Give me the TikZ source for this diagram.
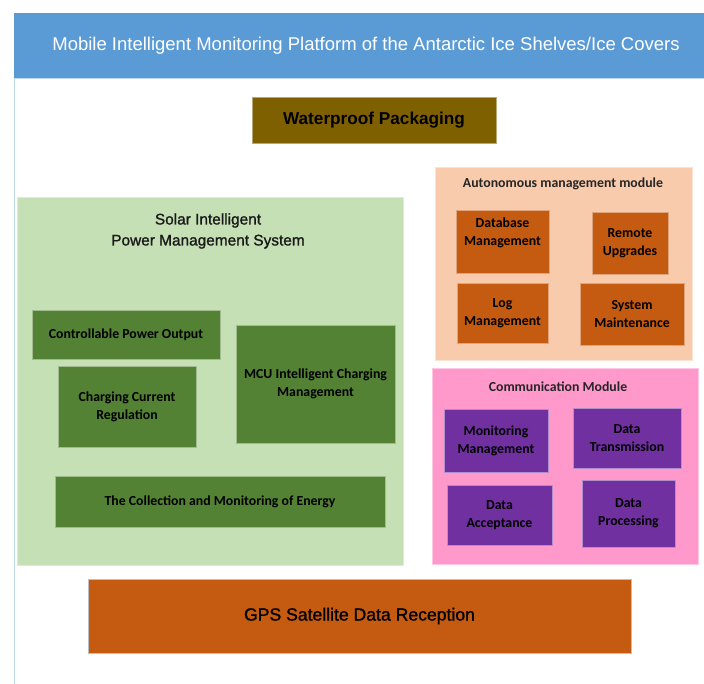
\documentclass[tikz,border=0pt]{standalone}
\usepackage{fontspec}
\setmainfont{Liberation Sans}
\newfontfamily\calfont{Carlito}
\newfontfamily\medfont{Liberation Sans}[FakeBold=1.2]
\definecolor{barblue}{HTML}{5B9BD5}
\definecolor{framec}{HTML}{BDD7EE}
\definecolor{olive}{HTML}{7F6000}
\definecolor{lgreen}{HTML}{C5E0B4}
\definecolor{dgreen}{HTML}{548235}
\definecolor{peach}{HTML}{F8CBAD}
\definecolor{dorange}{HTML}{C55A11}
\definecolor{pinkc}{HTML}{FF99CC}
\definecolor{purp}{HTML}{7030A0}
\begin{document}
\begin{tikzpicture}[x=1pt,y=-1pt,
  blk/.style={rectangle, inner sep=0pt, outer sep=0pt, fill=#1, draw=#1!55!white, line width=0.6pt},
  inner/.style={blk=#1, align=center, text=black,
    font=\calfont\bfseries\fontsize{13.8}{18}\selectfont},
  modtitle/.style={inner sep=0pt, text=black!85, font=\calfont\bfseries\fontsize{13.8}{18}\selectfont},
  lbl/.style={inner sep=0pt, align=center, text=black, font=\calfont\bfseries\fontsize{13.8}{18}\selectfont}]
\useasboundingbox (0,0) rectangle (704,684);
% frame
\draw[framec, line width=0.8pt] (14.5,78) -- (14.5,684);
% title bar
\node[rectangle, inner sep=0pt, fill=barblue, minimum width=690pt, minimum height=65pt] (bar) at (359,45.5) {};
\node[inner sep=0pt, text=white, font=\fontsize{18.5}{22}\selectfont] (title) at (366,45.5)
  {Mobile Intelligent Monitoring Platform of the Antarctic Ice Shelves/Ice Covers};
\draw[framec, line width=0.8pt] (bar.south west) -- (bar.south east);
% waterproof
\node[blk=olive, minimum width=244pt, minimum height=46pt, text=black,
  font=\bfseries\fontsize{17.2}{20}\selectfont] (wp) at (374,120) {Waterproof Packaging};
% solar system
\node[blk=lgreen, draw=lgreen!60!white, minimum width=386pt, minimum height=368pt] (solar) at (210,381) {};
\node[inner sep=0pt, align=center, text=black!90, font=\medfont\fontsize{15.4}{21}\selectfont] (solart) at (208,231)
  {Solar Intelligent\\Power Management System};
\node[inner=dgreen, minimum width=188pt, minimum height=49pt] (cpo) at (126,334.5) {Controllable Power Output};
\node[inner=dgreen, minimum width=138pt, minimum height=81pt] (ccr) at (127,406.5) {Charging Current\\Regulation};
\node[inner=dgreen, minimum width=159pt, minimum height=118pt] (mcu) at (315.5,384) {MCU Intelligent Charging\\Management};
\node[inner=dgreen, minimum width=330pt, minimum height=51pt] (coll) at (220,501.5) {The Collection and Monitoring of Energy};
% autonomous module
\node[blk=peach, minimum width=257pt, minimum height=193pt] (auto) at (563.5,263.5) {};
\node[modtitle] (autot) at (563,184) {Autonomous management module};
\node[blk=dorange, minimum width=93pt, minimum height=63pt] (db) at (502.5,241.5) {};
\node[lbl] (dbt) at (502.5,232.5) {Database\\Management};
\node[inner=dorange, minimum width=76pt, minimum height=62pt] (ru) at (630,243) {Remote\\Upgrades};
\node[inner=dorange, minimum width=91pt, minimum height=60pt] (log) at (502.5,313) {Log\\Management};
\node[inner=dorange, minimum width=104pt, minimum height=62pt] (sm) at (632,314) {System\\Maintenance};
% communication module
\node[blk=pinkc, minimum width=266pt, minimum height=196pt] (comm) at (565,466) {};
\node[modtitle] (commt) at (558,387) {Communication Module};
\node[inner=purp, minimum width=104pt, minimum height=63pt] (mm) at (496,440.5) {Monitoring\\Management};
\node[inner=purp, minimum width=108pt, minimum height=60pt] (dt) at (627,438) {Data\\Transmission};
\node[inner=purp, minimum width=105pt, minimum height=60pt] (da) at (499.5,515) {Data\\Acceptance};
\node[inner=purp, minimum width=93pt, minimum height=67pt] (dp) at (628.5,513.5) {Data\\Processing};
% GPS
\node[blk=dorange, draw=gray!50, minimum width=543pt, minimum height=74pt, text=black,
  font=\medfont\fontsize{17.6}{20}\selectfont] (gps) at (359.5,616) {GPS Satellite Data Reception};
\end{tikzpicture}
\end{document}
